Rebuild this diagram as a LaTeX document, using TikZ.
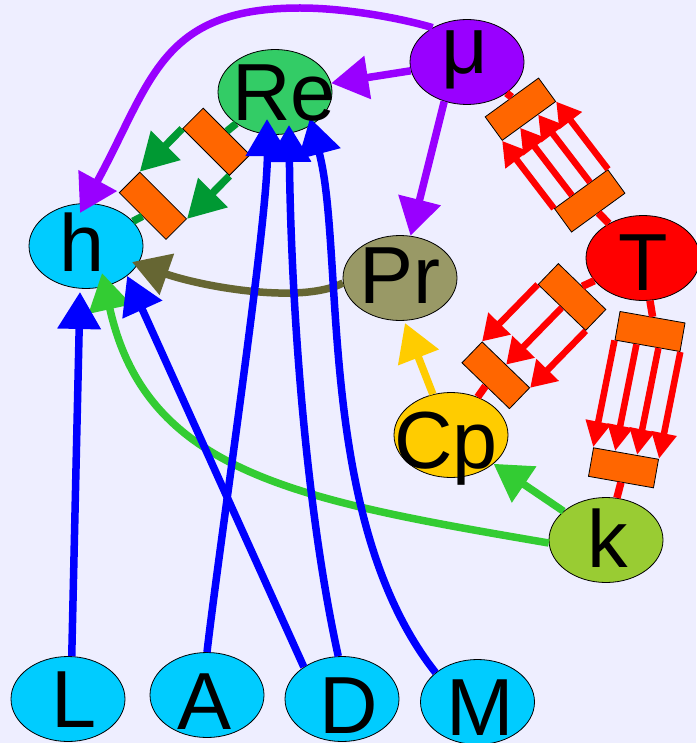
\documentclass[tikz,border=0pt]{standalone}
\usepackage{fontspec}
\setmainfont{Liberation Sans}
\usetikzlibrary{arrows.meta,calc,shapes.geometric}
\definecolor{bgc}{HTML}{EEEEFF}
\definecolor{muc}{HTML}{9900FF}
\definecolor{rec}{HTML}{33CC66}
\definecolor{rebund}{HTML}{009933}
\definecolor{cyanc}{HTML}{00CCFF}
\definecolor{prc}{HTML}{999966}
\definecolor{olivec}{HTML}{666633}
\definecolor{tc}{HTML}{FF0000}
\definecolor{cpc}{HTML}{FFCC00}
\definecolor{kc}{HTML}{99CC33}
\definecolor{kedge}{HTML}{33CC33}
\definecolor{bluec}{HTML}{0000FF}
\definecolor{boxc}{HTML}{FF6600}
\begin{document}
\begin{tikzpicture}[x=1pt,y=-1pt,
 ell/.style={ellipse,draw=black,line width=0.8pt,inner sep=0pt,minimum width=114pt,minimum height=85pt},
 lbl/.style={anchor=base,inner sep=0pt,font=\fontsize{81}{81}\selectfont},
 edge/.style={line width=7.5pt,-{Triangle[length=37pt,width=42pt]}},
 rbox/.style={rectangle,draw=black,line width=0.8pt,fill=boxc,minimum width=66pt,minimum height=29pt,inner sep=0pt},
 stub/.style={line width=7.5pt},
 bA/.style={line width=7.5pt,-{Triangle[length=37pt,width=40pt]}},
 bB/.style={line width=6.5pt,-{Triangle[length=24pt,width=27pt]}},
 bC/.style={line width=6.5pt,-{Triangle[length=25pt,width=30pt]}},
 bD/.style={line width=6.5pt,-{Triangle[length=26pt,width=24pt]}},
]
\fill[bgc] (0,0) rectangle (696,743);
\useasboundingbox (0,0) rectangle (696,743);

% species nodes
\node[ell,fill=muc] (mu) at (467,62) {};
\node[ell,fill=rec] (Re) at (275,92) {};
\node[ell,fill=cyanc] (h) at (86,246) {};
\node[ell,fill=prc] (Pr) at (400,278) {};
\node[ell,fill=tc] (T) at (643,258) {};
\node[ell,fill=cpc] (Cp) at (451,435) {};
\node[ell,fill=kc] (k) at (606,540) {};
\node[ell,fill=cyanc] (L) at (68,699) {};
\node[ell,fill=cyanc] (A) at (207,695) {};
\node[ell,fill=cyanc] (D) at (342,699) {};
\node[ell,fill=cyanc] (M) at (477.5,702) {};

% reaction boxes
\node[rbox,rotate=-45] (b1) at (216.3,141.8) {};
\node[rbox,rotate=-45] (b2) at (152.9,205.8) {};
\node[rbox,rotate=216] (b3) at (589.7,200.9) {};
\node[rbox,rotate=216] (b4) at (520.4,109.2) {};
\node[rbox,rotate=-44] (b5) at (572,297) {};
\node[rbox,rotate=-44] (b6) at (495.8,375.3) {};
\node[rbox,rotate=-10] (b7) at (650,331.5) {};
\node[rbox,rotate=-10] (b8) at (623.5,467.8) {};

% bundles
\draw[stub,rebund] (Re) -- (b1.north);
\draw[stub,rebund] (b2.south) -- (h);
\foreach \t in {0,1}
  \draw[bA,rebund] ($(b1.south west)!\t!(b1.south east)$) -- ($(b2.north west)!\t!(b2.north east)$);

\draw[stub,tc] (T) -- (b3.north);
\draw[stub,tc] (b4.south) -- (mu);
\foreach \t in {0,0.3333,0.6667,1}
  \draw[bB,tc] ($(b3.south west)!\t!(b3.south east)$) -- ($(b4.north west)!\t!(b4.north east)$);

\draw[stub,tc] (T) -- (b5.north);
\draw[stub,tc] (b6.south) -- (Cp);
\foreach \t in {0,0.5,1}
  \draw[bC,tc] ($(b5.south west)!\t!(b5.south east)$) -- ($(b6.north west)!\t!(b6.north east)$);

\draw[stub,tc] (T) -- (b7.north);
\draw[stub,tc] (b8.south) -- (k);
\foreach \t in {0,0.3333,0.6667,1}
  \draw[bD,tc] ($(b7.south west)!\t!(b7.south east)$) -- ($(b8.north west)!\t!(b8.north east)$);

% edges
\draw[edge,muc] (mu.135) .. controls (400,18) and (345,8) .. (300,8) .. controls (160,8) and (152,81) .. ([shift={(-6,-33)}]h.center);
\draw[edge,muc] (mu) -- (Re);
\draw[edge,muc] (mu.240) -- (Pr);
\draw[edge,olivec] (Pr.185) .. controls (300,305) and (200,286) .. ([shift={(46,16)}]h.center);
\draw[edge,cpc] (Cp.114) -- ([shift={(5,45)}]Pr.center);
\draw[edge,kedge] (k) -- (Cp);
\draw[edge,kedge] (k.183) .. controls (297,500) and (146,473) .. ([shift={(16,27)}]h.center);
\draw[edge,bluec] (L.85) -- ([shift={(-6,46)}]h.center);
\draw[edge,bluec] (A.north) .. controls (220,540) and (268,220) .. ([shift={(-8,27)}]Re.center);
\draw[edge,bluec] (D.140) -- (h.-36);
\draw[edge,bluec] (D.95) .. controls (305,505) and (291,300) .. ([shift={(14,33)}]Re.center);
\draw[edge,bluec] (M.145) .. controls (315,520) and (345,250) .. ([shift={(35,26)}]Re.center);

% labels
\node[lbl] (muT) at (465,74) {μ};
\node[lbl] (ReT) at (284,121) {Re};
\node[lbl] (hT) at (82.5,271) {h};
\node[lbl] (PrT) at (399.5,303) {Pr};
\node[lbl] (TT) at (643,290) {T};
\node[lbl] (CpT) at (446,468) {Cp};
\node[lbl] (kT) at (607.5,567) {k};
\node[lbl] (LT) at (74,727) {L};
\node[lbl] (AT) at (205,729) {A};
\node[lbl] (DT) at (348.5,733) {D};
\node[lbl] (MT) at (480.5,735) {M};
\end{tikzpicture}
\end{document}
